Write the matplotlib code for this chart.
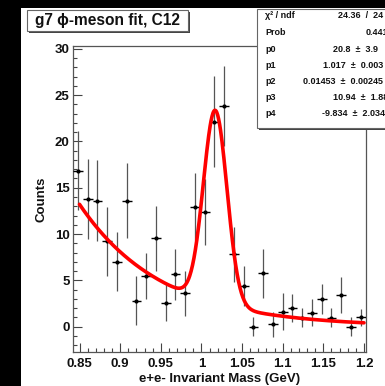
import numpy as np
import matplotlib
matplotlib.use("Agg")
import matplotlib.pyplot as plt
from matplotlib.patches import Rectangle
from matplotlib.ticker import MultipleLocator, FixedLocator, FixedFormatter

plt.rcParams['font.family'] = ['Liberation Sans', 'DejaVu Sans']

# Histogram: e+e- invariant mass, 30 bins of 12 MeV from 0.842 to 1.202 GeV
mass_centers = [0.848, 0.860, 0.872, 0.884, 0.896, 0.908, 0.920, 0.932, 0.944, 0.956,
                0.968, 0.980, 0.992, 1.004, 1.016, 1.028, 1.040, 1.052, 1.064, 1.076,
                1.088, 1.100, 1.112, 1.124, 1.136, 1.148, 1.160, 1.172, 1.184, 1.196]
counts = [16.85, 13.8, 13.6, 9.2, 7.0, 13.6, 2.8, 5.47, 9.55, 2.6,
          5.66, 3.6, 12.96, 12.35, 22.14, 23.85, 7.8, 4.4, 0.0, 5.77,
          0.26, 1.6, 2.05, 0.97, 1.5, 3.0, 0.97, 3.42, 0.0, 1.01]
count_errors = [4.3, 4.32, 4.35, 3.7, 3.19, 4.05, 2.65, 2.45, 3.49, 2.0,
                2.78, 2.45, 3.64, 3.55, 4.93, 4.3, 2.95, 2.2, 1.0, 2.65,
                1.38, 2.0, 1.5, 1.0, 1.45, 1.6, 1.05, 1.98, 1.0, 0.95]
bin_half_width = 0.006

# Fit: gaussian peak + exponential background, exp(p3 + p4*x)
p0, p1, p2, p3, p4 = 20.8, 1.017, 0.01453, 10.94, -9.834
fit_range = (0.85, 1.2)

stat_names = ["\u03c7\u00b2 / ndf", "Prob", "p0", "p1", "p2", "p3", "p4"]
stat_values = ["24.36  /  24", "0.441", "20.8  \u00b1  3.9", "1.017  \u00b1  0.003",
               "0.01453  \u00b1  0.00245", "10.94  \u00b1  1.88", "-9.834  \u00b1  2.034"]
stat_value_x = [338, 366, 332.7, 322.7, 302.7, 333.3, 321.7]

x_ticks = [0.85, 0.9, 0.95, 1.0, 1.05, 1.1, 1.15, 1.2]
x_tick_labels = ["0.85", "0.9", "0.95", "1", "1.05", "1.1", "1.15", "1.2"]
y_ticks = [0, 5, 10, 15, 20, 25, 30]
y_tick_labels = ["0", "5", "10", "15", "20", "25", "30"]

W, H = 385, 386
fig = plt.figure(figsize=(W / 100, H / 100), dpi=100, facecolor='black')


def fx(px):
    return px / W


def fy(py):
    return 1 - py / H


# white canvas behind everything
fig.patches.append(Rectangle((fx(21), 0), 1 - fx(21), fy(8), transform=fig.transFigure,
                             facecolor='white', edgecolor='none', zorder=-10))

ax = fig.add_axes([fx(73), fy(352), fx(365.6) - fx(73), fy(46) - fy(352)])
ax.set_zorder(1)
ax.set_facecolor('white')
ax.set_xlim(0.842, 1.202)
ax.set_ylim(-2.73, 30.3)

mc = np.array(mass_centers)
cv = np.array(counts)
ce = np.array(count_errors)

ax.errorbar(mc, cv, yerr=ce, fmt='none', ecolor='#555555', elinewidth=0.9, zorder=2)
ax.errorbar(mc, cv, xerr=bin_half_width, fmt='o', color='black', ecolor='black',
            elinewidth=1.0, markersize=3.0, markeredgewidth=0, zorder=3)

xf = np.linspace(fit_range[0], fit_range[1], 600)
yf = p0 * np.exp(-0.5 * ((xf - p1) / p2) ** 2) + np.exp(p3 + p4 * xf)
ax.plot(xf, yf, color='#ff0000', lw=2.6, solid_capstyle='round', zorder=4)

for s in ['left', 'bottom', 'top', 'right']:
    ax.spines[s].set_color('#555555')
    ax.spines[s].set_linewidth(0.9)

ax.xaxis.set_major_locator(FixedLocator(x_ticks))
ax.xaxis.set_major_formatter(FixedFormatter(x_tick_labels))
ax.xaxis.set_minor_locator(MultipleLocator(0.01))
ax.yaxis.set_major_locator(FixedLocator(y_ticks))
ax.yaxis.set_major_formatter(FixedFormatter(y_tick_labels))
ax.yaxis.set_minor_locator(MultipleLocator(1))

ax.tick_params(which='both', direction='in', top=False, right=False, color='#444444', width=0.8)
ax.tick_params(axis='x', which='major', length=6.5, pad=4)
ax.tick_params(axis='x', which='minor', length=3)
ax.tick_params(axis='y', which='major', length=6.5, pad=2.5)
ax.tick_params(axis='y', which='minor', length=3)
for lab in ax.get_xticklabels() + ax.get_yticklabels():
    lab.set_fontweight('bold')
    lab.set_fontsize(9.5)
    lab.set_color('#111111')

ax.set_xlabel("e+e- Invariant Mass (GeV)", fontsize=9.5, fontweight='bold', va='center', color='#111111')
ax.xaxis.set_label_coords(0.5, -0.088)
ax.set_ylabel("Counts", fontsize=9.5, fontweight='bold', va='center', color='#111111')
ax.yaxis.set_label_coords(-0.107, 0.5)

# overlay axes for the title and statistics boxes (drawn above the plot)
over = fig.add_axes([0, 0, 1, 1], facecolor='none')
over.set_zorder(5)
over.set_xlim(0, W)
over.set_ylim(H, 0)
over.axis('off')


def shadow_box(x0, y0, x1, y1):
    over.add_patch(Rectangle((x0 + 2, y0 + 2), x1 - x0, y1 - y0, facecolor='#444444',
                             edgecolor='none', zorder=1, clip_on=False))
    over.add_patch(Rectangle((x0, y0), x1 - x0, y1 - y0, facecolor='white',
                             edgecolor='#666666', linewidth=0.8, zorder=2, clip_on=False))


# title box
tx0, ty0, tx1, ty1 = 27, 10, 188, 31
shadow_box(tx0, ty0, tx1, ty1)
over.text((tx0 + tx1) / 2, (ty0 + ty1) / 2 + 0.5, "g7 \u03d5-meson fit, C12", ha='center', va='center',
          fontsize=11.2, fontweight='bold', color='#111111', zorder=3)

# statistics box
sx0, sy0, sx1, sy1 = 257, 9, 420, 128
shadow_box(sx0, sy0, sx1, sy1)
row_y = [15.7, 32.7, 49, 65.3, 82, 98, 114]
for name, val, vx, ry in zip(stat_names, stat_values, stat_value_x, row_y):
    over.text(265, ry, name, ha='left', va='center', fontsize=6.5, fontweight='bold',
              color='#111111', zorder=3)
    over.text(vx, ry, val, ha='left', va='center', fontsize=6.5, fontweight='bold',
              color='#111111', zorder=3)

fig.savefig("out.png", dpi=100, facecolor=fig.get_facecolor())
